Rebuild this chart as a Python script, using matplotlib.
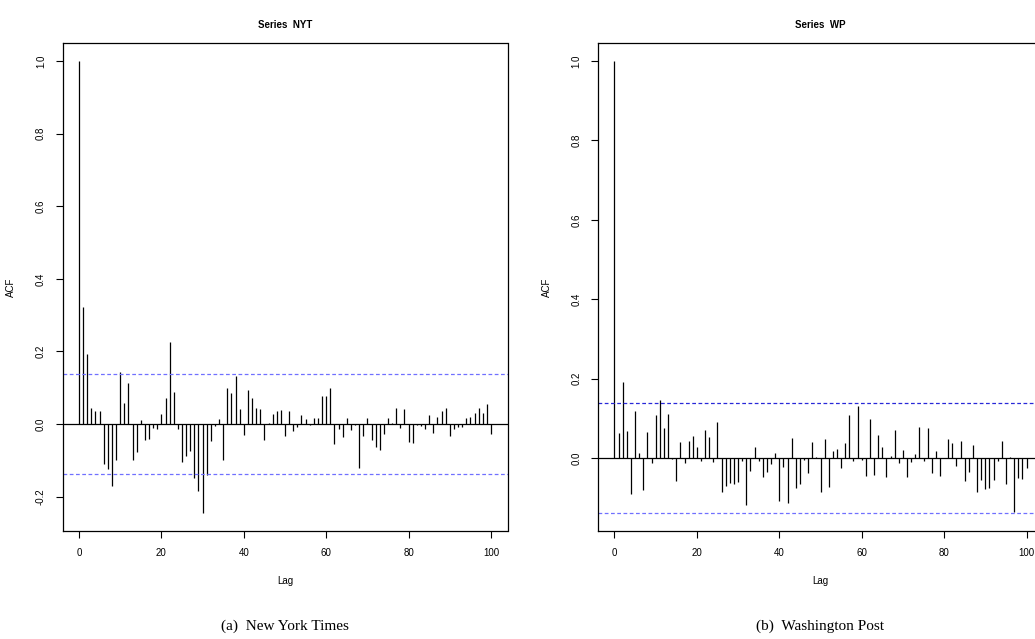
import matplotlib
matplotlib.use("Agg")
import matplotlib.pyplot as plt

lags = list(range(101))

nyt_acf = [1.0, 0.323, 0.193, 0.044, 0.036, 0.036, -0.11, -0.125, -0.17, -0.10,
           0.144, 0.058, 0.114, -0.10, -0.076, 0.012, -0.044, -0.041, -0.011, -0.015,
           0.027, 0.071, 0.227, 0.088, -0.014, -0.105, -0.087, -0.075, -0.15, -0.185,
           -0.245, -0.14, -0.048, -0.006, 0.014, -0.10, 0.098, 0.086, 0.132, 0.042,
           -0.031, 0.093, 0.073, 0.044, 0.041, -0.044, 0.004, 0.028, 0.036, 0.039,
           -0.034, 0.036, -0.018, -0.009, 0.024, 0.013, -0.004, 0.017, 0.017, 0.078,
           0.078, 0.100, -0.056, -0.014, -0.037, 0.017, -0.017, -0.004, -0.12, -0.033,
           0.017, -0.043, -0.062, -0.071, -0.027, 0.017, 0.004, 0.044, -0.011, 0.041,
           -0.050, -0.052, -0.002, -0.006, -0.014, 0.025, -0.026, 0.020, 0.036, 0.045,
           -0.034, -0.015, -0.008, -0.008, 0.017, 0.020, 0.029, 0.045, 0.030, 0.054,
           -0.027]

wp_acf = [1.0, 0.063, 0.191, 0.069, -0.090, 0.119, 0.013, -0.081, 0.065, -0.013,
          0.109, 0.146, 0.076, 0.112, -0.003, -0.057, 0.040, -0.013, 0.043, 0.055,
          0.029, -0.008, 0.071, 0.053, -0.011, 0.092, -0.086, -0.071, -0.063, -0.065,
          -0.060, -0.008, -0.119, -0.033, 0.029, -0.006, -0.048, -0.034, -0.014, 0.013,
          -0.108, -0.023, -0.114, 0.050, -0.076, -0.065, -0.005, -0.038, 0.041, 0.003,
          -0.085, 0.047, -0.072, 0.018, 0.024, -0.026, 0.039, 0.109, -0.008, 0.132,
          -0.005, -0.044, 0.099, -0.043, 0.059, 0.029, -0.047, 0.005, 0.072, -0.013,
          0.021, -0.048, -0.011, 0.010, 0.079, -0.006, 0.075, -0.037, 0.019, -0.046,
          0.001, 0.049, 0.039, -0.021, 0.044, -0.058, -0.035, 0.032, -0.086, -0.056,
          -0.078, -0.076, -0.055, -0.008, 0.043, -0.064, 0.002, -0.135, -0.049, -0.053,
          -0.024]

ci = 0.138

panels = [
    ("Series  NYT", nyt_acf, "(a)  New York Times", "#7070ff", "#7070ff"),
    ("Series  WP", wp_acf, "(b)  Washington Post", "#2828d8", "#7070ff"),
]

plt.rcParams["font.family"] = ["Liberation Sans", "DejaVu Sans"]

fig = plt.figure(figsize=(10.35, 6.39), dpi=100)
lefts = [62.5 / 1035, 598 / 1035]

for left, (title, acf, caption, c_up, c_lo) in zip(lefts, panels):
    ax = fig.add_axes([left, 108 / 639, 445 / 1035, 488 / 639])

    ax.vlines(lags, 0, acf, color="black", lw=0.9)
    ax.axhline(0, color="black", lw=0.9)
    ax.axhline(ci, color=c_up, lw=0.9, ls=(0, (3, 2)))
    ax.axhline(-ci, color=c_lo, lw=0.9, ls=(0, (3, 2)))

    # R style limits: range of values and limits, widened by 4 %
    lo = min(min(acf), -ci)
    hi = max(max(acf), ci)
    pad = 0.04 * (hi - lo)
    ax.set_ylim(lo - pad, hi + pad)
    ax.set_xlim(-4, 104)

    ax.set_xticks([0, 20, 40, 60, 80, 100])
    yt = [t / 10 for t in range(-2, 11, 2) if t / 10 >= lo - pad]
    ax.set_yticks(yt)
    ax.set_yticklabels([f"{t:.1f}" for t in yt], rotation=90, va="center")
    ax.tick_params(labelsize=7, length=5, width=0.8, pad=7)

    ax.set_xlabel("Lag", fontsize=7, labelpad=13)
    ax.set_ylabel("ACF", fontsize=7, labelpad=14)
    ax.set_title(title, fontsize=7, fontweight="bold", pad=11)
    for s in ax.spines.values():
        s.set_linewidth(0.9)

    fig.text(left + 222.5 / 1035, 13 / 639, caption, ha="center", va="center",
             fontsize=11, family=["Liberation Serif", "DejaVu Serif"])

fig.savefig("out.png", dpi=100)
